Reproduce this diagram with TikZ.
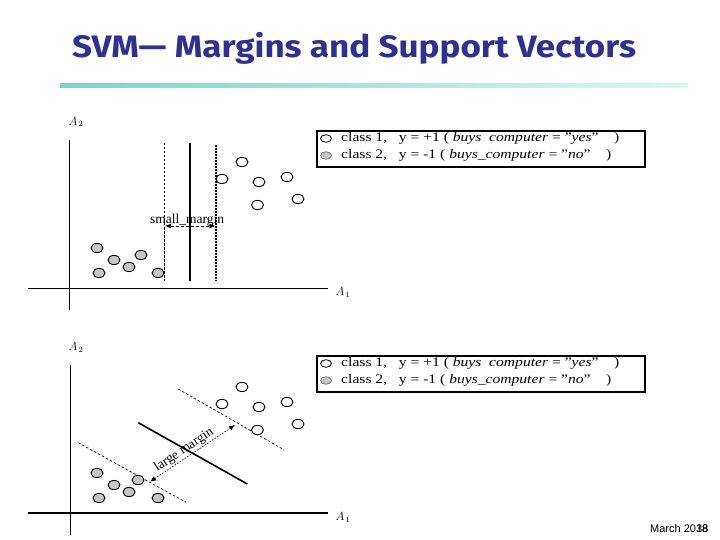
\documentclass[tikz,border=0pt]{standalone}
\usepackage{fontspec}
\setmainfont{Liberation Serif}
\newfontfamily\titlefont{Fira Sans}
\newfontfamily\footfont{Liberation Sans}
\usetikzlibrary{arrows.meta}
\definecolor{titleblue}{RGB}{46,49,146}
\definecolor{ptgray}{RGB}{198,198,198}
\definecolor{lineA}{RGB}{120,214,200}
\definecolor{lineB}{RGB}{215,248,245}
\tikzset{
  posdot/.style={draw=black, line width=0.9pt, fill=white},
  negdot/.style={draw=black, line width=0.9pt, fill=ptgray},
  axis/.style={line width=0.7pt},
  legendbox/.style={draw=black, line width=1.8pt, minimum width=328pt, minimum height=36pt, inner sep=0pt},
  legtext/.style={anchor=west, inner sep=0pt, xscale=1.2, font=\fontsize{13}{15}\selectfont},
  axlabel/.style={inner sep=0pt, font=\fontsize{12}{14}\selectfont},
  marginarrow/.style={line width=0.7pt, {Latex[length=6pt,width=5pt]}-{Latex[length=6pt,width=5pt]}},
  marglabel/.style={inner sep=0pt, font=\fontsize{13.5}{15}\selectfont},
}
\begin{document}
\begin{tikzpicture}[x=1pt,y=-1pt]
\useasboundingbox (0,0) rectangle (720,540);
% title
\node[anchor=west, inner sep=0pt, xscale=1.13, text=titleblue, font=\titlefont\bfseries\fontsize{31}{34}\selectfont] (title) at (72,48) {SVM— Margins and Support Vectors};
\shade[left color=lineA, right color=lineB] (60,83.5) rectangle (688,87.5);

% ---------- top panel ----------
\coordinate (t-ytop) at (69,140);
\coordinate (t-ybot) at (69,310);
\coordinate (t-xl) at (28,288);
\coordinate (t-xr) at (328,288);
\draw[axis] (t-ytop) -- (t-ybot);
\draw[axis] (t-xl) -- (t-xr);
\node[axlabel] (t-a2) at (76,122) {$A_{\,2}$};
\node[axlabel] (t-a1) at (343,292) {$A_{\,1}$};
\coordinate (t-d1) at (164.5,143);
\coordinate (t-d2) at (164.5,281);
\coordinate (t-s1) at (190,143);
\coordinate (t-s2) at (190,281);
\coordinate (t-o1) at (216,145);
\coordinate (t-o2) at (216,281);
\draw[line width=0.6pt, dash pattern=on 2.5pt off 1.5pt] (t-d1) -- (t-d2);
\draw[line width=2.6pt] (t-s1) -- (t-s2);
\draw[line width=2.6pt, dash pattern=on 1.8pt off 1.2pt] (t-o1) -- (t-o2);
\coordinate (t-m1) at (165,226);
\coordinate (t-m2) at (215.5,226);
\draw[marginarrow, dash pattern=on 3pt off 2pt] (t-m1) -- (t-m2);
\node[marglabel] (t-ml) at (187,220) {small\_margin};
\foreach \x/\y in {242/162,222/179,259/182,287/177,298/199,257.5/205}
  \draw[posdot] (\x,\y) ellipse (6 and 4.6);
\foreach \x/\y in {97/248,114/260,141/255,129/267,99/273,158/273}
  \draw[negdot] (\x,\y) ellipse (6 and 4.6);
\node[legendbox, anchor=north west] (t-leg) at (316,130) {};
\draw[posdot, line width=0.8pt] (326,138.5) ellipse (5.5 and 3.8);
\draw[draw=black!60, line width=0.6pt, fill=ptgray] (326,155.5) ellipse (5.5 and 3.8);
\node[legtext] (t-l1) at (341,138.5) {class 1,\ \ \ y = +1 ( \textit{buys\ \ computer} = "\textit{yes}"\ \ \ \ )};
\node[legtext] (t-l2) at (341,155.5) {class 2,\ \ \ y = -1 ( \textit{buys\_computer} = "\textit{no}"\ \ \ \ )};

% ---------- bottom panel ----------
\coordinate (b-ytop) at (70,365);
\coordinate (b-ybot) at (70,535);
\coordinate (b-xl) at (28,513);
\coordinate (b-xr) at (328,513);
\draw[axis] (b-ytop) -- (b-ybot);
\draw[line width=1.6pt] (b-xl) -- (b-xr);
\node[axlabel] (b-a2) at (76,347) {$A_{\,2}$};
\node[axlabel] (b-a1) at (343,517) {$A_{\,1}$};
\coordinate (b-s1) at (138.3,422.7);
\coordinate (b-s2) at (247.3,484);
\coordinate (b-u1) at (178.3,389);
\coordinate (b-u2) at (284.3,450);
\coordinate (b-l1) at (78.3,442.7);
\coordinate (b-l2) at (186,502.3);
\draw[line width=1.6pt] (b-s1) -- (b-s2);
\draw[line width=0.7pt, dash pattern=on 2.5pt off 2pt] (b-u1) -- (b-u2);
\draw[line width=0.7pt, dash pattern=on 2.5pt off 2pt] (b-l1) -- (b-l2);
\coordinate (b-m1) at (150,481.7);
\coordinate (b-m2) at (235,425);
\draw[marginarrow, dash pattern=on 1.5pt off 1.5pt] (b-m1) -- (b-m2);
\node[marglabel, rotate=33.7] (b-ml) at (184,450) {large margin};
\foreach \x/\y in {242/387,222/404,259/407,287/402,298/424,257.5/430}
  \draw[posdot] (\x,\y) ellipse (6 and 4.6);
\foreach \x/\y in {97/473,114/485,138/480,129/492,99/498,158/498}
  \draw[negdot] (\x,\y) ellipse (6 and 4.6);
\node[legendbox, anchor=north west] (b-leg) at (316,355) {};
\draw[posdot, line width=0.8pt] (326,363.5) ellipse (5.5 and 3.8);
\draw[draw=black!60, line width=0.6pt, fill=ptgray] (326,380.5) ellipse (5.5 and 3.8);
\node[legtext] (b-l1t) at (341,363.5) {class 1,\ \ \ y = +1 ( \textit{buys\ \ computer} = "\textit{yes}"\ \ \ \ )};
\node[legtext] (b-l2t) at (341,380.5) {class 2,\ \ \ y = -1 ( \textit{buys\_computer} = "\textit{no}"\ \ \ \ )};

% footer
\node[anchor=west, inner sep=0pt, font=\footfont\fontsize{11}{13}\selectfont] (date) at (650,529) {March 2018};
\node[anchor=east, inner sep=0pt, font=\footfont\fontsize{11}{13}\selectfont] (page) at ([xshift=0pt]date.east) {38};
\end{tikzpicture}
\end{document}
